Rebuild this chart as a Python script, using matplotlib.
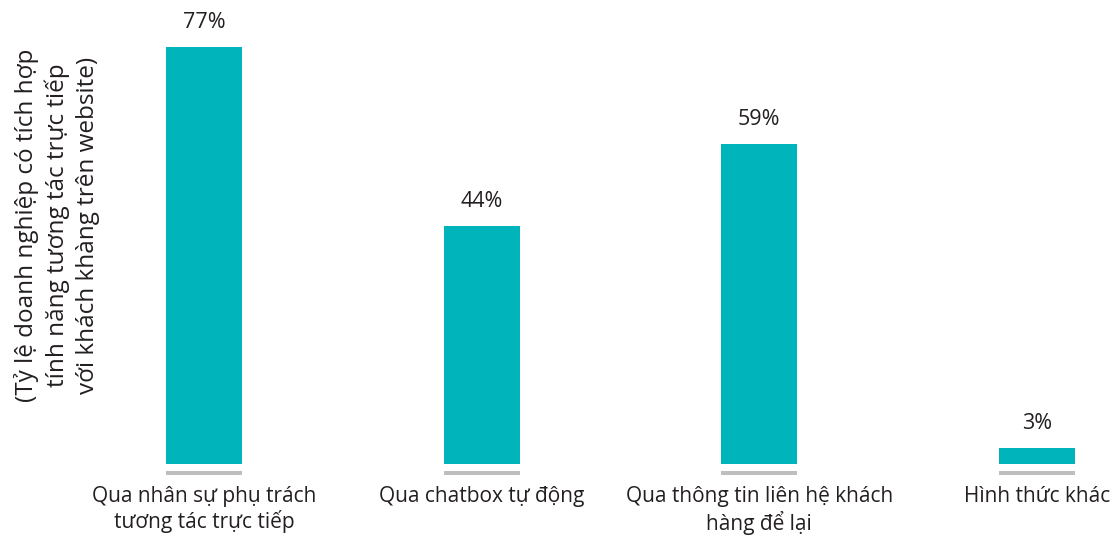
import matplotlib
matplotlib.use('Agg')
import matplotlib.pyplot as plt

plt.rcParams['font.family'] = ['Open Sans', 'DejaVu Sans']

CATEGORIES = ['Qua nhân sự phụ trách\ntương tác trực tiếp', 'Qua chatbox tự động',
              'Qua thông tin liên hệ khách\nhàng để lại', 'Hình thức khác']
VALUES = [77, 44, 59, 3]
VALUE_LABELS = ['77%', '44%', '59%', '3%']
Y_LABEL = '(Tỷ lệ doanh nghiệp có tích hợp\ntính năng tương tác trực tiếp\nvới khách khàng trên website)'

BAR_COLOR = '#00B4BC'
BASE_COLOR = '#BCBEC0'
TEXT_COLOR = '#231F20'

fig = plt.figure(figsize=(11.15, 5.36), dpi=100)
W, H = 1115, 536
px_per_unit = 5.42
ymin = -3
bottom_px = 464 + 3 * px_per_unit
ax = fig.add_axes([100 / W, (H - bottom_px) / H, 1010 / W, bottom_px / H])

x = list(range(len(CATEGORIES)))
bar_w = 76 / 277.5
ax.bar(x, VALUES, width=bar_w, color=BAR_COLOR, zorder=2)
# grey base segment below each bar
ax.bar(x, [0.75] * len(x), bottom=-2.03, width=bar_w, color=BASE_COLOR, zorder=2)

for xi, v, lab in zip(x, VALUES, VALUE_LABELS):
    ax.annotate(lab, (xi, v), xytext=(0, 10), textcoords='offset points',
                ha='center', va='bottom', fontsize=15.5, color=TEXT_COLOR)

ax.set_xlim(-(204 - 100) / 277.5, 3 + (1110 - 1037) / 277.5)
ax.set_ylim(ymin, bottom_px / px_per_unit + ymin)
ax.set_xticks(x)
ax.set_xticklabels(CATEGORIES, fontsize=15, color=TEXT_COLOR, linespacing=1.2)
ax.tick_params(axis='x', length=0, pad=4)
ax.set_yticks([])
for s in ax.spines.values():
    s.set_visible(False)

fig.text(57 / W, (H - 225) / H, Y_LABEL, rotation=90, ha='center', va='center',
         multialignment='center', fontsize=17.5, color=TEXT_COLOR, linespacing=1.3)

fig.savefig('out.png', dpi=100)
